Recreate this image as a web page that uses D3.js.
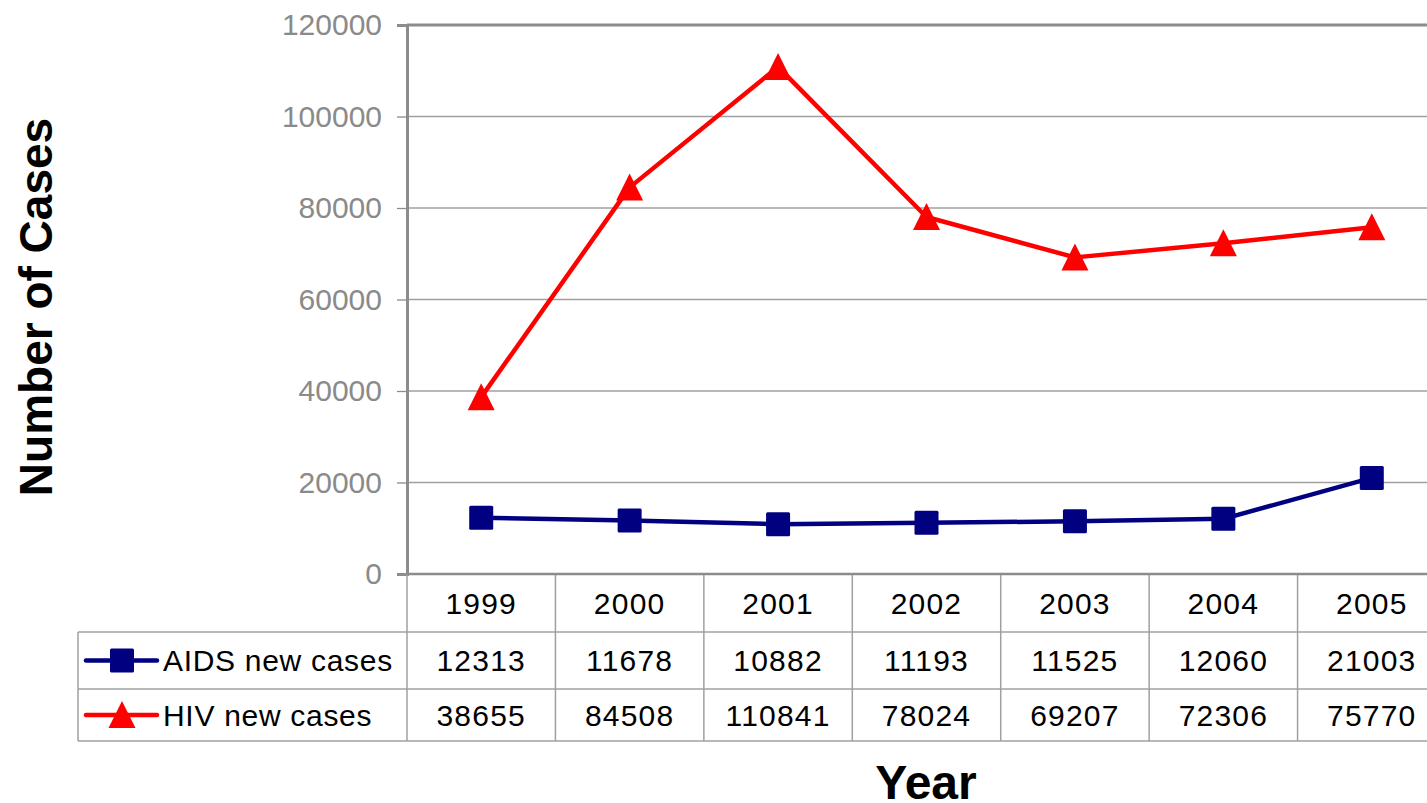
<!DOCTYPE html>
<html>
<head>
<meta charset="utf-8">
<script src="https://cdn.jsdelivr.net/npm/d3@7"></script>
<style>
  html, body { margin: 0; padding: 0; background: #fff; }
  svg { display: block; font-family: "Liberation Sans", Arial, sans-serif; }
</style>
</head>
<body>
<svg id="chart" width="1427" height="803"></svg>
<script>
// Yearly new cases
const years = ["1999", "2000", "2001", "2002", "2003", "2004", "2005"];
const aidsCases = [12313, 11678, 10882, 11193, 11525, 12060, 21003];
const hivCases = [38655, 84508, 110841, 78024, 69207, 72306, 75770];
const yTicks = [0, 20000, 40000, 60000, 80000, 100000, 120000];

const seriesList = [
  { name: "AIDS new cases", values: aidsCases, color: "#000080", marker: "square" },
  { name: "HIV new cases", values: hivCases, color: "#ff0000", marker: "triangle" }
];

const svg = d3.select("#chart");
// the plot runs slightly past the right edge of the page
const plot = { left: 407, right: 1446, top: 25, bottom: 574 };
const rowH = [58, 57, 52];   // year row, then one row per series
const tableLeft = 78;
const tableFont = "30px";

const x = d3.scaleBand().domain(years).range([plot.left, plot.right]);
const y = d3.scaleLinear().domain([0, 120000]).range([plot.bottom, plot.top]);

// Horizontal gridlines
svg.append("g").selectAll("line").data(yTicks).join("line")
  .attr("x1", plot.left).attr("x2", plot.right)
  .attr("y1", d => y(d)).attr("y2", d => y(d))
  .attr("stroke", d => d === 120000 ? "#8c8c8c" : "#a0a0a0")
  .attr("stroke-width", d => d === 120000 ? 3 : 1.3);

// Y axis with grey labels
const yAxis = svg.append("g")
  .attr("transform", `translate(${plot.left},0)`)
  .call(d3.axisLeft(y).tickValues(yTicks).tickSize(10).tickPadding(15).tickFormat(d3.format("d")));
yAxis.select(".domain").attr("stroke", "#8c8c8c").attr("stroke-width", 3);
yAxis.selectAll(".tick line").attr("stroke", "#8c8c8c").attr("stroke-width", 1.3);
yAxis.selectAll(".tick text")
  .attr("fill", "#8a8a8a")
  .style("font-size", "30px")
  .style("font-family", "Liberation Sans, Arial, sans-serif");

// Data table grid
const tableLines = svg.append("g").attr("stroke", "#a0a0a0").attr("stroke-width", 1.5);
const rowY = [plot.bottom, plot.bottom + rowH[0], plot.bottom + rowH[0] + rowH[1],
  plot.bottom + rowH[0] + rowH[1] + rowH[2]];
[1, 2, 3].forEach(r => {
  tableLines.append("line").attr("x1", tableLeft).attr("x2", plot.right)
    .attr("y1", rowY[r]).attr("y2", rowY[r]);
});
tableLines.append("line").attr("x1", tableLeft).attr("x2", tableLeft)
  .attr("y1", rowY[1]).attr("y2", rowY[3]);
tableLines.selectAll("line.col").data(years).join("line").attr("class", "col")
  .attr("x1", d => x(d)).attr("x2", d => x(d))
  .attr("y1", plot.bottom).attr("y2", rowY[3]);

// Plot bottom edge
svg.append("line")
  .attr("x1", plot.left).attr("x2", plot.right)
  .attr("y1", plot.bottom).attr("y2", plot.bottom)
  .attr("stroke", "#8c8c8c").attr("stroke-width", 2.5);

// Year labels
svg.append("g").selectAll("text").data(years).join("text")
  .attr("x", d => x(d) + x.bandwidth() / 2)
  .attr("y", plot.bottom + rowH[0] / 2)
  .attr("dy", "0.36em")
  .attr("text-anchor", "middle")
  .style("font-size", tableFont)
  .style("letter-spacing", "1.2px")
  .attr("fill", "#000")
  .text(d => d);

// Table values
seriesList.forEach((s, i) => {
  const cy = rowY[i + 1] + rowH[i + 1] / 2;
  svg.append("g").selectAll("text").data(s.values).join("text")
    .attr("x", (d, j) => x(years[j]) + x.bandwidth() / 2)
    .attr("y", cy)
    .attr("dy", "0.36em")
    .attr("text-anchor", "middle")
    .style("font-size", tableFont)
    .style("letter-spacing", "1.2px")
    .attr("fill", "#000")
    .text(d => d);
});

// Marker shapes
function drawMarker(g, type, color, cx, cy) {
  if (type === "square") {
    g.append("rect")
      .attr("x", cx - 12).attr("y", cy - 12)
      .attr("width", 24).attr("height", 24)
      .attr("rx", 1.5)
      .attr("fill", color);
  } else {
    g.append("path")
      .attr("d", `M${cx},${cy - 14} L${cx + 13.5},${cy + 13} L${cx - 13.5},${cy + 13} Z`)
      .attr("fill", color);
  }
}

// Series lines and markers
const line = d3.line()
  .x((d, j) => x(years[j]) + x.bandwidth() / 2)
  .y(d => y(d));

seriesList.forEach(s => {
  svg.append("path")
    .datum(s.values)
    .attr("d", line)
    .attr("fill", "none")
    .attr("stroke", s.color)
    .attr("stroke-width", 4.5)
    .attr("stroke-linejoin", "round");
  const g = svg.append("g");
  s.values.forEach((v, j) => drawMarker(g, s.marker, s.color, x(years[j]) + x.bandwidth() / 2, y(v)));
});

// Legend keys inside the table rows
seriesList.forEach((s, i) => {
  const cy = rowY[i + 1] + rowH[i + 1] / 2;
  const g = svg.append("g");
  g.append("line")
    .attr("x1", 86).attr("x2", 157)
    .attr("y1", cy).attr("y2", cy)
    .attr("stroke", s.color).attr("stroke-width", 4.5)
    .attr("stroke-linecap", "round");
  drawMarker(g, s.marker, s.color, 122, cy);
  g.append("text")
    .attr("x", 163).attr("y", cy)
    .attr("dy", "0.36em")
    .style("font-size", "30px")
    .style("letter-spacing", "0.7px")
    .attr("fill", "#000")
    .text(s.name);
});

// Axis titles
svg.append("text")
  .attr("transform", `translate(52,307) rotate(-90)`)
  .attr("text-anchor", "middle")
  .style("font-size", "46px")
  .style("font-weight", "bold")
  .attr("fill", "#000")
  .text("Number of Cases");

svg.append("text")
  .attr("x", 926).attr("y", 799)
  .attr("text-anchor", "middle")
  .style("font-size", "48px")
  .style("font-weight", "bold")
  .attr("fill", "#000")
  .text("Year");
</script>
</body>
</html>
